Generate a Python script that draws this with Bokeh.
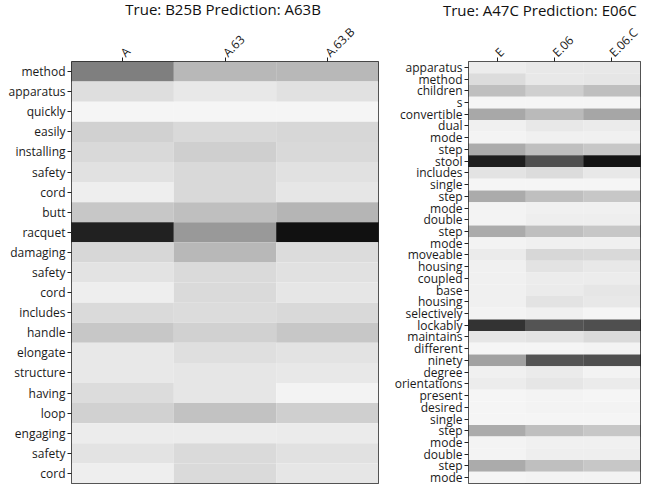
import math
from bokeh.plotting import figure
from bokeh.layouts import row
from bokeh.models import LinearColorMapper, Range1d, ColumnDataSource
from bokeh.embed import file_html
from bokeh.resources import INLINE

# ---------------- data ----------------
left_title = "True: B25B  Prediction: A63B"
left_cols = ["A", "A.63", "A.63.B"]
left_words = ["method", "apparatus", "quickly", "easily", "installing", "safety", "cord",
              "butt", "racquet", "damaging", "safety", "cord", "includes", "handle",
              "elongate", "structure", "having", "loop", "engaging", "safety", "cord"]
left_A = [0.50, 0.13, 0.04, 0.18, 0.15, 0.12, 0.07, 0.22, 0.87, 0.16, 0.11, 0.07, 0.145,
          0.22, 0.09, 0.09, 0.14, 0.18, 0.075, 0.11, 0.07]
left_A63 = [0.28, 0.09, 0.04, 0.15, 0.19, 0.15, 0.15, 0.25, 0.40, 0.28, 0.145, 0.145, 0.14,
            0.18, 0.125, 0.10, 0.10, 0.24, 0.075, 0.145, 0.145]
left_A63B = [0.28, 0.12, 0.04, 0.16, 0.15, 0.12, 0.10, 0.29, 0.93, 0.14, 0.12, 0.10, 0.15,
             0.22, 0.11, 0.09, 0.05, 0.19, 0.08, 0.12, 0.10]

right_title = "True: A47C  Prediction: E06C"
right_cols = ["E", "E.06", "E.06.C"]
right_words = ["apparatus", "method", "children", "s", "convertible", "dual", "mode", "step",
               "stool", "includes", "single", "step", "mode", "double", "step", "mode",
               "moveable", "housing", "coupled", "base", "housing", "selectively", "lockably",
               "maintains", "different", "ninety", "degree", "orientations", "present",
               "desired", "single", "step", "mode", "double", "step", "mode"]
right_E = [0.075, 0.14, 0.25, 0.04, 0.34, 0.06, 0.05, 0.33, 0.88, 0.11, 0.04, 0.33, 0.05, 0.05,
           0.33, 0.05, 0.08, 0.06, 0.06, 0.06, 0.06, 0.05, 0.80, 0.10, 0.04, 0.37, 0.06, 0.075,
           0.04, 0.04, 0.04, 0.33, 0.05, 0.05, 0.33, 0.04]
right_E06 = [0.09, 0.09, 0.19, 0.04, 0.27, 0.09, 0.06, 0.25, 0.69, 0.14, 0.04, 0.25, 0.06, 0.07,
             0.25, 0.06, 0.16, 0.11, 0.075, 0.08, 0.11, 0.06, 0.67, 0.11, 0.04, 0.67, 0.08, 0.10,
             0.05, 0.05, 0.04, 0.25, 0.06, 0.07, 0.25, 0.05]
right_E06C = [0.09, 0.10, 0.25, 0.04, 0.35, 0.08, 0.06, 0.22, 0.92, 0.09, 0.04, 0.22, 0.06, 0.07,
              0.22, 0.06, 0.15, 0.09, 0.075, 0.10, 0.09, 0.04, 0.69, 0.145, 0.05, 0.69, 0.05, 0.08,
              0.04, 0.05, 0.04, 0.22, 0.06, 0.07, 0.22, 0.05]

FONT = "Open Sans"
grey_palette = ["#%02x%02x%02x" % (v, v, v) for v in range(255, -1, -1)]


def heatmap(title, cols, words, series, frame_w, frame_h, border_left, border_right,
            label_size, title_align):
    xs, ys, ws = [], [], []
    for ci, vals in enumerate(series):
        for ri, v in enumerate(vals):
            xs.append(ci)
            ys.append(ri)
            ws.append(v)
    src = ColumnDataSource(dict(x=xs, y=ys, w=ws))
    n = len(words)
    p = figure(frame_width=frame_w, frame_height=frame_h,
               x_range=Range1d(-0.5, len(cols) - 0.5), y_range=Range1d(n - 0.5, -0.5),
               x_axis_location="above", output_backend="svg", toolbar_location=None,
               min_border_left=border_left, min_border_right=border_right,
               min_border_top=0, min_border_bottom=4)
    mapper = LinearColorMapper(palette=grey_palette, low=0, high=1)
    p.rect(x="x", y="y", width=1, height=1, source=src,
           fill_color={"field": "w", "transform": mapper}, line_color=None)
    p.title.text = title
    p.title.align = title_align
    p.title.text_font = FONT
    p.title.text_font_size = "15px"
    p.title.text_font_style = "normal"
    p.title.text_color = "#111111"
    p.title.standoff = -8
    p.grid.visible = False
    p.outline_line_color = "#222222"
    p.outline_line_width = 1
    p.outline_line_alpha = 1
    p.background_fill_color = "white"
    p.border_fill_color = "white"

    xa = p.xaxis[0]
    xa.ticker = list(range(len(cols)))
    xa.major_label_overrides = {i: c for i, c in enumerate(cols)}
    xa.major_label_orientation = math.pi / 4

    ya = p.yaxis[0]
    ya.ticker = list(range(n))
    ya.major_label_overrides = {i: w for i, w in enumerate(words)}

    for ax in (xa, ya):
        ax.axis_line_color = None
        ax.minor_tick_line_color = None
        ax.major_tick_in = 0
        ax.major_tick_out = 4
        ax.major_tick_line_color = "#222222"
        ax.major_label_text_font = FONT
        ax.major_label_text_font_size = label_size
        ax.major_label_text_color = "#1a1a1a"
        ax.major_label_standoff = 2
    xa.major_label_standoff = 3
    return p


p1 = heatmap(left_title, left_cols, left_words, [left_A, left_A63, left_A63B],
             307, 422, 71, 9, "12px", "center")
p2 = heatmap(right_title, right_cols, right_words, [right_E, right_E06, right_E06C],
             172, 422, 81, 1, "12px", "right")

layout = row(p1, p2)
open("out.html", "w").write(file_html(layout, INLINE))
